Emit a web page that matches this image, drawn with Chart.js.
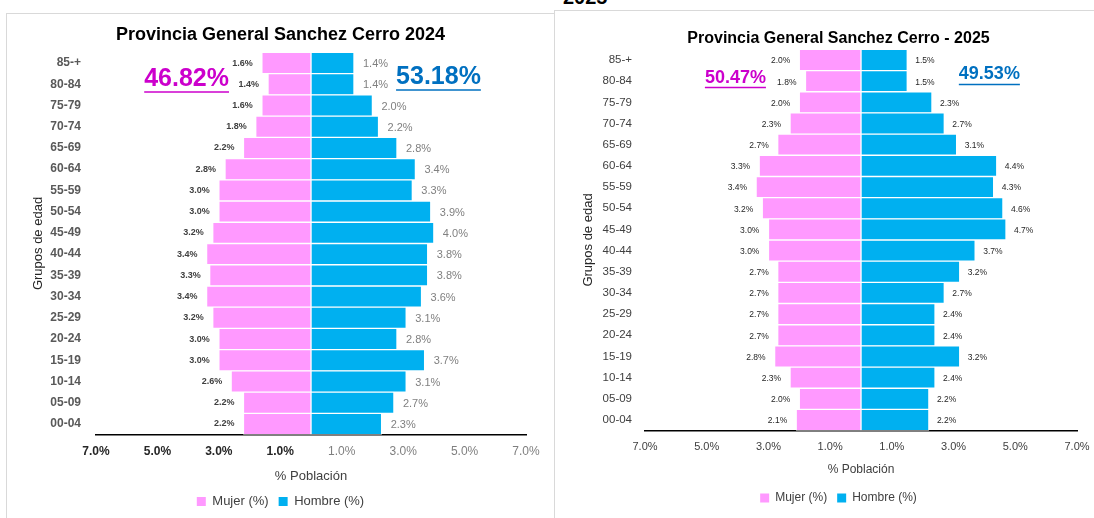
<!DOCTYPE html>
<html>
<head>
<meta charset="utf-8">
<script src="https://cdn.jsdelivr.net/npm/chart.js@4.4.1/dist/chart.umd.min.js"></script>
<style>
  html, body { margin: 0; padding: 0; background: #fff; width: 1094px; height: 518px; overflow: hidden; position: relative; }
  .frame-left { position: absolute; left: 6px; top: 13px; width: 548px; height: 530px; border: 1px solid #d9d9d9; border-right: none; }
  .frame-right { position: absolute; left: 554px; top: 10px; width: 560px; height: 530px; border: 1px solid #d9d9d9; }
  .cut-title { position: absolute; left: 563px; top: -13px; font: bold 20px "Liberation Sans", Arial, sans-serif; line-height: 20px; color: #000; }
  canvas { position: absolute; }
  #c2024 { left: 7px; top: 14px; }
  #c2025 { left: 555px; top: 11px; }
</style>
</head>
<body>
<div class="frame-left"></div>
<div class="frame-right"></div>
<div class="cut-title">2025</div>
<canvas id="c2024" width="547" height="504"></canvas>
<canvas id="c2025" width="545" height="507"></canvas>
<script>
// 1. Data (top row first)
const ageGroups = ['85-+', '80-84', '75-79', '70-74', '65-69', '60-64', '55-59', '50-54', '45-49',
                   '40-44', '35-39', '30-34', '25-29', '20-24', '15-19', '10-14', '05-09', '00-04'];

const mujer2024  = [1.6, 1.4, 1.6, 1.8, 2.2, 2.8, 3.0, 3.0, 3.2, 3.4, 3.3, 3.4, 3.2, 3.0, 3.0, 2.6, 2.2, 2.2];
const hombre2024 = [1.4, 1.4, 2.0, 2.2, 2.8, 3.4, 3.3, 3.9, 4.0, 3.8, 3.8, 3.6, 3.1, 2.8, 3.7, 3.1, 2.7, 2.3];

const mujer2025  = [2.0, 1.8, 2.0, 2.3, 2.7, 3.3, 3.4, 3.2, 3.0, 3.0, 2.7, 2.7, 2.7, 2.7, 2.8, 2.3, 2.0, 2.1];
const hombre2025 = [1.5, 1.5, 2.3, 2.7, 3.1, 4.4, 4.3, 4.6, 4.7, 3.7, 3.2, 2.7, 2.4, 2.4, 3.2, 2.4, 2.2, 2.2];

const xTickValues = [-7, -5, -3, -1, 1, 3, 5, 7];

const shares2024 = ['46.82%', '53.18%'];
const shares2025 = ['50.47%', '49.53%'];

const FONT = '"Liberation Sans", Arial, sans-serif';
const PINK = '#FF99FF';
const BLUE = '#00B0F0';

// 2. Small plugins: value labels beside bars, and the big share figures
function barLabelsPlugin(styles) {
    return {
        id: 'barLabels',
        afterDatasetsDraw(chart) {
            const ctx = chart.ctx;
            chart.data.datasets.forEach((ds, i) => {
                const st = styles[i];
                ctx.save();
                ctx.font = st.font;
                ctx.fillStyle = st.color;
                ctx.textBaseline = 'middle';
                chart.getDatasetMeta(i).data.forEach((bar, j) => {
                    const v = ds.data[j];
                    ctx.textAlign = v < 0 ? 'right' : 'left';
                    ctx.fillText(Math.abs(v).toFixed(1) + '%', bar.x + (v < 0 ? -st.gap : st.gap), bar.y + st.dy);
                });
                ctx.restore();
            });
        }
    };
}

function sharesPlugin(items, font, underline) {
    return {
        id: 'shares',
        afterDraw(chart) {
            const ctx = chart.ctx;
            const { x, y } = chart.scales;
            ctx.save();
            ctx.font = font;
            ctx.textAlign = 'center';
            ctx.textBaseline = 'middle';
            items.forEach(it => {
                const px = x.getPixelForValue(it.x);
                const py = y.getPixelForValue(it.row);
                const w = ctx.measureText(it.text).width;
                ctx.fillStyle = it.color;
                ctx.fillText(it.text, px, py);
                ctx.strokeStyle = it.color;
                ctx.lineWidth = 1.5;
                ctx.beginPath();
                ctx.moveTo(px - w / 2, py + underline);
                ctx.lineTo(px + w / 2, py + underline);
                ctx.stroke();
            });
            ctx.restore();
        }
    };
}

// 3. Chart factory
function buildPyramid(canvasId, cfg) {
    return new Chart(document.getElementById(canvasId), {
        type: 'bar',
        data: {
            labels: ageGroups,
            datasets: [
                { label: 'Mujer (%)', data: cfg.mujer.map(v => -v), backgroundColor: PINK },
                { label: 'Hombre (%)', data: cfg.hombre, backgroundColor: BLUE }
            ]
        },
        options: {
            indexAxis: 'y',
            responsive: false,
            animation: false,
            events: [],
            datasets: {
                bar: { categoryPercentage: 1, barPercentage: 1, borderWidth: 1, borderColor: '#fff', borderSkipped: false }
            },
            // left/right padding keep the title and legend centred where the original has them
            layout: { padding: { top: 0, left: cfg.padLeft, right: cfg.padRight, bottom: cfg.padBottom } },
            scales: {
                x: {
                    stacked: true,
                    min: -7, max: 7,
                    afterBuildTicks: s => { s.ticks = xTickValues.map(v => ({ value: v })); },
                    afterFit: s => { s.height = cfg.xHeight; },
                    grid: { display: false, drawTicks: false },
                    border: { display: true, color: '#000', width: 1.5 },
                    ticks: {
                        padding: cfg.tickPad,
                        maxRotation: 0,
                        autoSkip: false,
                        callback: v => Math.abs(v).toFixed(1) + '%',
                        font: cfg.tickFont,
                        color: cfg.tickColor
                    },
                    title: {
                        display: true, text: '% Población', color: '#404040',
                        font: { family: FONT, size: cfg.xTitleSize },
                        padding: { top: 0, bottom: cfg.xTitlePad }
                    }
                },
                y: {
                    stacked: true,
                    afterFit: s => { s.width = cfg.yWidth; },
                    grid: { display: false, drawTicks: false },
                    border: { display: false },
                    ticks: { padding: cfg.catPad, color: cfg.catColor, font: cfg.catFont, autoSkip: false },
                    title: {
                        display: true, text: 'Grupos de edad', color: '#262626',
                        font: { family: FONT, size: 13 },
                        padding: { top: cfg.yTitlePad, bottom: 0 }
                    }
                }
            },
            plugins: {
                title: {
                    display: true, text: cfg.title, color: '#000',
                    font: { family: FONT, size: cfg.titleSize, weight: 'bold' },
                    padding: cfg.titlePad
                },
                legend: {
                    position: 'bottom',
                    labels: {
                        boxWidth: 9, boxHeight: 9, padding: 10,
                        color: '#404040',
                        font: { family: FONT, size: cfg.legendSize },
                        generateLabels: chart => Chart.defaults.plugins.legend.labels.generateLabels(chart)
                            .map(l => Object.assign(l, { lineWidth: 0, strokeStyle: 'rgba(0,0,0,0)' }))
                    }
                },
                tooltip: { enabled: false }
            }
        },
        plugins: [barLabelsPlugin(cfg.labelStyles), sharesPlugin(cfg.shares, cfg.shareFont, cfg.underline)]
    });
}

// 4. The two pyramids
buildPyramid('c2024', {
    title: 'Provincia General Sanchez Cerro 2024',
    mujer: mujer2024, hombre: hombre2024,
    titleSize: 18, titlePad: { top: 10.2, bottom: 6.6 },
    padLeft: 28, padRight: 28, padBottom: 0, xHeight: 50.4, yWidth: 61,
    tickPad: 10,
    tickFont: ctx => ({ family: FONT, size: 12, weight: ctx.tick && ctx.tick.value < 0 ? 'bold' : 'normal' }),
    tickColor: ctx => (ctx.tick && ctx.tick.value < 0 ? '#262626' : '#7f7f7f'),
    xTitleSize: 13, xTitlePad: 1.2,
    catPad: 15, catColor: '#595959', catFont: { family: FONT, size: 12, weight: 'bold' },
    yTitlePad: -4.8,
    legendSize: 13,
    labelStyles: [
        { font: 'bold 9px ' + FONT, color: '#404040', gap: 9, dy: 0 },
        { font: '11px ' + FONT, color: '#808080', gap: 9, dy: 1 }
    ],
    shares: [
        { text: shares2024[0], color: '#CC00CC', x: -4.05, row: 0.75 },
        { text: shares2024[1], color: '#0070C0', x: 4.15, row: 0.66 }
    ],
    shareFont: 'bold 25px ' + FONT, underline: 13
});

buildPyramid('c2025', {
    title: 'Provincia General Sanchez Cerro - 2025',
    mujer: mujer2025, hombre: hombre2025,
    titleSize: 16, titlePad: { top: 18, bottom: 1.2 },
    padLeft: 45, padRight: 23, padBottom: 4, xHeight: 51.4, yWidth: 45,
    tickPad: 10,
    tickFont: { family: FONT, size: 11 },
    tickColor: '#404040',
    xTitleSize: 12, xTitlePad: 4.8,
    catPad: 13, catColor: '#404040', catFont: { family: FONT, size: 11.5 },
    yTitlePad: -19.8,
    legendSize: 12,
    labelStyles: [
        { font: '8.5px ' + FONT, color: '#262626', gap: 9, dy: 1 },
        { font: '8.5px ' + FONT, color: '#262626', gap: 8, dy: 1 }
    ],
    shares: [
        { text: shares2025[0], color: '#CC00CC', x: -4.07, row: 0.83 },
        { text: shares2025[1], color: '#0070C0', x: 4.16, row: 0.68 }
    ],
    shareFont: 'bold 18px ' + FONT, underline: 10
});
</script>
</body>
</html>
